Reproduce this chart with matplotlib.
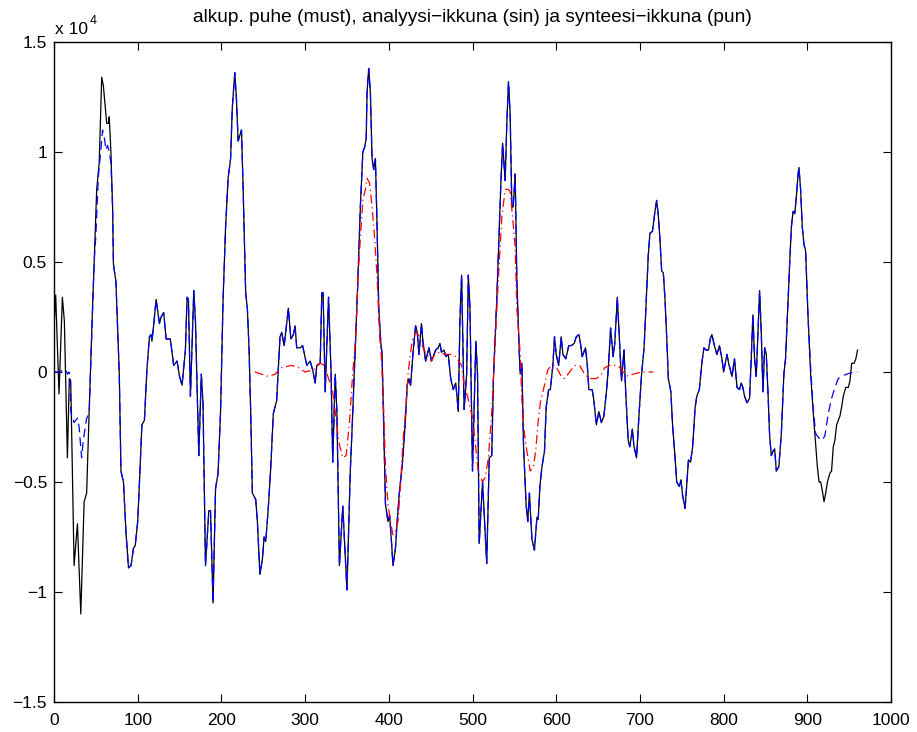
'''
Fun: speech frame with analysis and synthesis windows
'''

import numpy as np
import matplotlib
matplotlib.use('Agg')
import matplotlib.pyplot as plt

plt.rcParams['font.family'] = ['Liberation Sans', 'DejaVu Sans']

# original speech (black), values in units of 1e4
black_x = [0, 2, 6, 10, 12.4, 16, 18.3, 20, 24, 28, 32, 36, 39, 42, 46, 48, 51, 54, 57, 59,
	63, 65, 66, 68, 70, 71, 74, 78, 80, 83, 86, 89, 92, 95, 97, 100, 102, 105, 108, 111,
	114, 116, 117, 119, 122, 123.5, 126, 128, 131, 134, 139, 143, 147, 150, 153, 157, 159, 160.6, 163, 167,
	169, 173, 176, 178, 181, 185, 187, 190, 193, 196, 199, 202, 205, 208, 211, 213, 216, 218, 220, 224,
	226, 229, 231, 233, 235, 237, 241, 243, 246, 249, 251, 253, 256, 259, 262, 266, 270, 272, 275, 280,
	283, 286, 288, 290, 294, 297, 302, 306, 309, 312, 314, 318, 320, 321.5, 324, 328, 331, 333, 336, 338,
	341, 345, 350, 354, 357, 360.5, 363, 366, 369, 371, 373, 374, 376, 378, 380, 382, 384, 386, 388, 390.5,
	392, 394, 396, 399, 401, 403, 405, 408, 410, 413, 416, 419.5, 422, 424, 426, 429, 432, 434, 436, 439,
	441, 444, 446, 448, 451, 454, 456, 459, 461, 463, 466, 468, 471, 474, 477, 480, 483, 485, 487, 490,
	493, 495, 497, 500, 504, 506, 508, 512, 517, 520, 523, 525, 529, 532, 534, 536, 539, 541, 543, 545,
	547, 548.6, 551, 553, 556, 557, 559, 561, 564, 566, 568, 571, 574, 577, 578.5, 580.5, 583, 586, 588, 591,
	593, 596, 598, 600, 603, 606, 608, 611.5, 615, 618, 621.5, 624, 627, 629, 631, 635, 637, 639, 643, 645,
	648, 651, 654, 657, 660, 662, 665, 668, 670, 673, 675, 678, 681, 683, 686, 688, 691, 693, 696, 699,
	702, 705, 708, 710, 712, 715, 718, 720, 722, 724, 726, 728, 730, 732, 734, 737, 739, 742, 744, 747,
	749, 751, 754, 756, 758, 760.5, 763, 766, 768, 771, 774, 776.5, 779, 782, 784, 786, 789, 792, 795, 798,
	800, 804, 806, 810, 813, 816, 819, 821, 823, 825, 828, 831, 833, 835, 837, 839, 841, 843, 845, 847,
	849, 851, 853, 855, 857, 859, 861, 863, 866, 869, 872, 874, 877, 879, 881, 883, 885, 887, 889, 890,
	892, 894, 896, 898, 901, 904, 907, 910, 912, 914, 916, 918, 920, 922, 924, 927, 929, 931, 933, 935,
	939, 941, 943, 946, 949, 951, 953, 956, 958, 960]
black_y = [0.20, 0.35, -0.10, 0.34, 0.23, -0.39, -0.03, -0.04, -0.88, -0.69, -1.10, -0.59, -0.55, -0.18, 0.29, 0.50, 0.83, 0.95, 1.34, 1.30,
	1.13, 1.13, 1.16, 1.00, 0.75, 0.49, 0.41, -0.01, -0.45, -0.50, -0.73, -0.89, -0.88, -0.80, -0.79, -0.68, -0.51, -0.24, -0.22, 0.01,
	0.16, 0.17, 0.14, 0.21, 0.33, 0.29, 0.22, 0.25, 0.27, 0.15, 0.15, 0.03, 0.05, -0.02, -0.06, 0.10, 0.34, 0.33, -0.11, 0.37,
	0.23, -0.38, -0.01, -0.14, -0.88, -0.63, -0.63, -1.05, -0.53, -0.46, -0.18, 0.33, 0.66, 0.88, 0.97, 1.20, 1.36, 1.24, 1.05, 1.10,
	0.83, 0.36, 0.29, 0.11, -0.18, -0.55, -0.58, -0.68, -0.92, -0.85, -0.75, -0.77, -0.62, -0.43, -0.19, -0.13, 0.16, 0.18, 0.12, 0.29,
	0.15, 0.17, 0.21, 0.11, 0.11, 0.12, 0.03, 0.05, 0.01, -0.05, 0.03, 0.04, 0.36, 0.36, -0.09, 0.34, 0.00, -0.41, -0.01, -0.18,
	-0.88, -0.61, -0.99, -0.45, -0.18, 0.16, 0.41, 0.75, 1.00, 1.02, 1.06, 1.27, 1.38, 1.27, 0.97, 0.92, 0.97, 0.66, 0.29, 0.13,
	0.08, -0.26, -0.60, -0.68, -0.65, -0.76, -0.88, -0.80, -0.68, -0.53, -0.43, -0.24, -0.06, -0.03, -0.06, 0.09, 0.21, 0.18, 0.08, 0.22,
	0.13, 0.05, 0.08, 0.11, 0.05, 0.08, 0.10, 0.11, 0.13, 0.09, 0.10, 0.07, 0.08, -0.03, -0.08, -0.05, -0.18, 0.24, 0.44, -0.17,
	-0.01, 0.44, 0.29, -0.45, 0.14, -0.01, -0.78, -0.50, -0.87, -0.39, -0.38, -0.03, 0.33, 0.66, 0.87, 1.04, 0.87, 1.13, 1.32, 1.17,
	0.75, 0.75, 0.90, 0.41, 0.08, -0.01, 0.04, -0.34, -0.60, -0.68, -0.55, -0.76, -0.81, -0.66, -0.67, -0.52, -0.43, -0.36, -0.16, -0.08,
	-0.08, 0.03, 0.16, 0.08, 0.03, 0.16, 0.08, 0.06, 0.12, 0.12, 0.13, 0.16, 0.17, 0.13, 0.07, 0.11, 0.04, -0.08, -0.08, -0.13,
	-0.24, -0.18, -0.23, -0.20, -0.09, 0.00, 0.20, 0.07, 0.13, 0.34, 0.19, -0.04, 0.10, -0.09, -0.31, -0.34, -0.26, -0.34, -0.39, -0.19,
	-0.01, 0.11, 0.36, 0.53, 0.63, 0.64, 0.73, 0.78, 0.71, 0.60, 0.46, 0.45, 0.33, 0.16, -0.03, -0.09, -0.24, -0.39, -0.50, -0.52,
	-0.49, -0.56, -0.62, -0.51, -0.40, -0.41, -0.34, -0.16, -0.11, -0.08, 0.04, 0.11, 0.10, 0.10, 0.15, 0.17, 0.12, 0.08, 0.12, 0.06,
	0.00, 0.08, 0.04, -0.02, 0.06, -0.07, -0.08, -0.05, -0.07, -0.11, -0.14, -0.12, 0.06, 0.26, 0.06, -0.02, 0.18, 0.37, 0.18, -0.09,
	0.11, 0.08, -0.09, -0.29, -0.38, -0.36, -0.35, -0.45, -0.43, -0.28, -0.01, 0.06, 0.33, 0.50, 0.66, 0.73, 0.72, 0.80, 0.90, 0.93,
	0.83, 0.66, 0.58, 0.55, 0.24, -0.01, -0.18, -0.33, -0.43, -0.50, -0.50, -0.54, -0.59, -0.55, -0.50, -0.46, -0.45, -0.34, -0.31, -0.24,
	-0.20, -0.16, -0.11, -0.07, -0.07, -0.04, 0.04, 0.04, 0.06, 0.10]

# analysis window output (blue): tapered ends, middle same as black
blue_start_x = [0, 8, 10, 14, 16, 18, 19, 20, 24, 28, 30, 33, 35, 39, 42, 45, 48, 50, 53, 56, 58, 60, 62, 64, 66, 68]
blue_start_y = [0.0, 0.0, 0.01, 0.01, -0.01, 0.0, -0.02, -0.18, -0.23, -0.21, -0.25, -0.39, -0.31, -0.21, -0.19, 0.16, 0.50, 0.62, 0.89, 1.01, 1.10, 1.07, 1.01, 1.03, 1.00, 0.95]
blue_end_x = [904, 907, 910, 914, 918, 921, 923, 925, 929, 933, 937, 941, 947, 955, 960]
blue_end_y = [0.02, -0.16, -0.28, -0.30, -0.31, -0.29, -0.24, -0.19, -0.12, -0.07, -0.03, -0.02, -0.01, 0.0, 0.0]

# synthesis window output (red)
red_x = [240, 248, 256, 264, 272, 284, 292, 300, 310, 318, 323, 328, 333, 336, 340, 341, 345, 349, 353, 357,
	360.5, 363, 366, 369, 372, 374, 377, 380, 383, 386, 389, 391, 394, 396, 399, 402, 405, 408, 411, 414,
	417, 420, 423, 426, 429, 433, 437, 441, 445, 451, 455, 461, 467, 475, 480, 487, 490, 494, 500, 503,
	507, 510, 512, 515, 519, 523, 527, 531, 535, 539, 543, 545, 548, 551, 553, 557, 559, 562, 565, 569,
	573, 576, 578, 581, 586, 590, 594, 598, 602, 606, 610, 616, 622, 628, 634, 640, 648, 654, 658, 664,
	674, 680, 686, 692, 702, 716]
red_y = [0.00, -0.01, -0.02, -0.01, 0.02, 0.03, 0.02, 0.00, 0.01, 0.04, 0.03, -0.03, -0.09, -0.18, -0.31, -0.33, -0.39, -0.38, -0.23, 0.00,
	0.16, 0.41, 0.61, 0.78, 0.83, 0.88, 0.86, 0.75, 0.61, 0.43, 0.16, 0.08, -0.18, -0.43, -0.60, -0.68, -0.74, -0.72, -0.68, -0.51,
	-0.31, -0.18, -0.01, 0.09, 0.16, 0.18, 0.16, 0.11, 0.08, 0.05, 0.08, 0.09, 0.08, 0.08, 0.07, 0.03, -0.06, -0.11, -0.21, -0.31,
	-0.46, -0.48, -0.50, -0.48, -0.39, -0.18, 0.13, 0.43, 0.70, 0.83, 0.83, 0.82, 0.70, 0.56, 0.29, 0.08, -0.13, -0.28, -0.36, -0.45,
	-0.43, -0.34, -0.24, -0.14, -0.06, 0.01, 0.03, 0.03, 0.01, -0.02, -0.03, 0.00, 0.03, 0.03, -0.01, -0.03, -0.03, -0.01, 0.02, 0.03,
	0.03, 0.00, -0.02, -0.01, 0.00, 0.00]

x_ticks = [0, 100, 200, 300, 400, 500, 600, 700, 800, 900, 1000]
y_ticks = [-1.5, -1, -0.5, 0, 0.5, 1, 1.5]
y_ticklabels = ['\u22121.5', '\u22121', '\u22120.5', '0', '0.5', '1', '1.5']
title = 'alkup. puhe (must), analyysi\u2212ikkuna (sin) ja synteesi\u2212ikkuna (pun)'


def main():
	bx = np.array(black_x)
	by = np.array(black_y)
	mid = (bx >= 70) & (bx <= 901)
	blue_x = np.concatenate([blue_start_x, bx[mid], blue_end_x])
	blue_y = np.concatenate([blue_start_y, by[mid], blue_end_y])

	W, H = 917, 732
	fig = plt.figure(figsize=(W / 100, H / 100), dpi=100)
	ax = fig.add_axes([54 / W, 30 / H, 837 / W, 660 / H])

	ax.plot(bx, by, color='black', lw=0.9, linestyle='-')
	ax.plot(blue_x, blue_y, color='blue', lw=0.9, linestyle=(0, (7, 4)))
	ax.plot(red_x, red_y, color='red', lw=0.9, linestyle=(0, (7, 3, 1, 3)))

	ax.set_xlim(0, 1000)
	ax.set_ylim(-1.5, 1.5)
	ax.set_xticks(x_ticks)
	ax.set_yticks(y_ticks)
	ax.set_yticklabels(y_ticklabels)
	ax.tick_params(direction='in', length=6, width=0.8, top=True, right=True, labelsize=12.5)
	ax.tick_params(axis='x', pad=8)
	ax.tick_params(axis='y', pad=5)
	for s in ax.spines.values():
		s.set_linewidth(1.0)

	fig.text(472 / W, 1 - 22 / H, title, ha='center', va='baseline', fontsize=13.8)
	fig.text(55 / W, 1 - 34 / H, 'x 10', ha='left', va='baseline', fontsize=12.5)
	fig.text(90 / W, 1 - 24 / H, '4', ha='left', va='baseline', fontsize=9)

	fig.savefig('out.png', dpi=100)


if __name__ == '__main__':
	main()
